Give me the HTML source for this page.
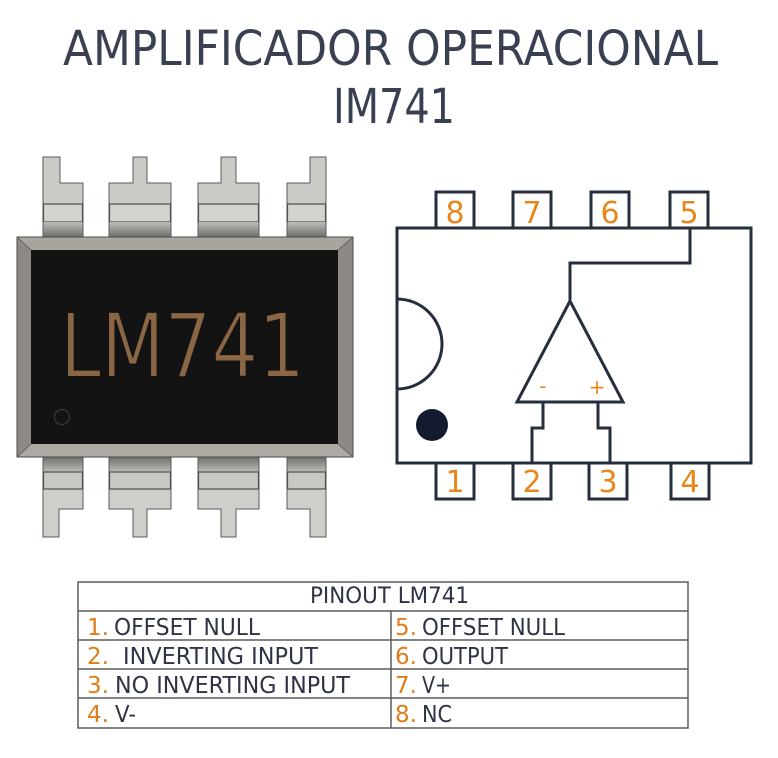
<!DOCTYPE html>
<html>
<head>
<meta charset="utf-8">
<style>
  html,body{margin:0;padding:0;background:#fff;}
  svg{display:block;}
  .t{font-family:"DejaVu Sans","Liberation Sans",sans-serif;}
</style>
</head>
<body>
<svg width="778" height="758" viewBox="0 0 778 758" xmlns="http://www.w3.org/2000/svg">
  <defs>
    <linearGradient id="gTop" x1="0" y1="0" x2="0" y2="1">
      <stop offset="0" stop-color="#bdbcb7"/>
      <stop offset="1" stop-color="#6e6e6c"/>
    </linearGradient>
    <linearGradient id="gBot" x1="0" y1="0" x2="0" y2="1">
      <stop offset="0" stop-color="#6e6e6c"/>
      <stop offset="1" stop-color="#bdbcb7"/>
    </linearGradient>
  </defs>

  <!-- Title -->
  <text class="t" x="63" y="65" font-size="48" fill="#3a4052" textLength="655" lengthAdjust="spacingAndGlyphs">AMPLIFICADOR OPERACIONAL</text>
  <text class="t" x="333" y="123" font-size="48" fill="#3a4052" textLength="122" lengthAdjust="spacingAndGlyphs">IM741</text>

  <!-- ===== Left chip ===== -->
  <g stroke="#5a5a58" stroke-width="1">
    <path d="M43,237 L43,157 L60,157 L60,183 L83,183 L83,237 Z" fill="#cbcac4"/>
    <path d="M109,237 L109,183 L133,183 L133,157 L147,157 L147,183 L171,183 L171,237 Z" fill="#cbcac4"/>
    <path d="M198,237 L198,183 L221,183 L221,157 L236,157 L236,183 L259,183 L259,237 Z" fill="#cbcac4"/>
    <path d="M287,237 L287,183 L310,183 L310,157 L326,157 L326,237 Z" fill="#cbcac4"/>
    <path d="M43,457 L43,537 L59,537 L59,509 L83,509 L83,457 Z" fill="#cfcec8"/>
    <path d="M109,457 L109,509 L133,509 L133,537 L147,537 L147,509 L171,509 L171,457 Z" fill="#cfcec8"/>
    <path d="M198,457 L198,509 L221,509 L221,537 L236,537 L236,509 L259,509 L259,457 Z" fill="#cfcec8"/>
    <path d="M287,457 L287,509 L310,509 L310,537 L326,537 L326,457 Z" fill="#cfcec8"/>
  </g>
  <g stroke="#4e4e4c" stroke-width="1.2">
    <rect x="43.5" y="204" width="39" height="18" fill="#d4d3cd"/>
    <rect x="109.5" y="204" width="61" height="18" fill="#d4d3cd"/>
    <rect x="198.5" y="204" width="60" height="18" fill="#d4d3cd"/>
    <rect x="287.5" y="204" width="38" height="18" fill="#d4d3cd"/>
  </g>
  <g>
    <rect x="43.5" y="222" width="39" height="15" fill="url(#gTop)"/>
    <rect x="109.5" y="222" width="61" height="15" fill="url(#gTop)"/>
    <rect x="198.5" y="222" width="60" height="15" fill="url(#gTop)"/>
    <rect x="287.5" y="222" width="38" height="15" fill="url(#gTop)"/>
  </g>
  <g>
    <rect x="43.5" y="457" width="39" height="15" fill="url(#gBot)"/>
    <rect x="109.5" y="457" width="61" height="15" fill="url(#gBot)"/>
    <rect x="198.5" y="457" width="60" height="15" fill="url(#gBot)"/>
    <rect x="287.5" y="457" width="38" height="15" fill="url(#gBot)"/>
  </g>
  <g stroke="#4e4e4c" stroke-width="1.2">
    <rect x="43.5" y="472" width="39" height="17" fill="#c9c8c2"/>
    <rect x="109.5" y="472" width="61" height="17" fill="#c9c8c2"/>
    <rect x="198.5" y="472" width="60" height="17" fill="#c9c8c2"/>
    <rect x="287.5" y="472" width="38" height="17" fill="#c9c8c2"/>
  </g>

  <!-- body bevel -->
  <polygon points="17,237 353,237 338,250 31,250" fill="#a8a59f"/>
  <polygon points="31,444 338,444 353,457 17,457" fill="#acaaa3"/>
  <polygon points="17,237 31,250 31,444 17,457" fill="#8d8a85"/>
  <polygon points="353,237 338,250 338,444 353,457" fill="#8d8a85"/>
  <rect x="17" y="237" width="336" height="220" fill="none" stroke="#4a4a48" stroke-width="1"/>
  <g stroke="#55524e" stroke-width="0.8">
    <line x1="17" y1="237" x2="31" y2="250"/>
    <line x1="353" y1="237" x2="338" y2="250"/>
    <line x1="17" y1="457" x2="31" y2="444"/>
    <line x1="353" y1="457" x2="338" y2="444"/>
  </g>
  <rect x="31" y="250" width="307" height="194" fill="#131313"/>
  <text class="t" x="60" y="377" font-size="89" fill="#8a6644" stroke="#131313" stroke-width="2" textLength="245" lengthAdjust="spacingAndGlyphs">LM741</text>
  <circle cx="62" cy="417" r="7.5" fill="none" stroke="#3a3a3a" stroke-width="1.2"/>

  <!-- ===== Right diagram ===== -->
  <g fill="#fff" stroke="#262d3d" stroke-width="3">
    <rect x="436" y="192" width="38" height="36"/>
    <rect x="513" y="192" width="38" height="36"/>
    <rect x="591" y="192" width="38" height="36"/>
    <rect x="670" y="192" width="38" height="36"/>
    <rect x="436" y="463" width="38" height="36"/>
    <rect x="513" y="463" width="38" height="36"/>
    <rect x="589" y="463" width="38" height="36"/>
    <rect x="671" y="463" width="38" height="36"/>
    <rect x="397" y="228" width="354" height="235"/>
  </g>
  <g fill="none" stroke="#262d3d" stroke-width="3">
    <path d="M397,299 A45,45 0 0 1 397,389"/>
    <polygon points="570,301 517,402 623,402" stroke-linejoin="miter"/>
    <polyline points="570,301 570,263 690,263 690,228"/>
    <polyline points="543,402 543,428 532,428 532,463"/>
    <polyline points="598,402 598,428 610,428 610,463"/>
  </g>
  <circle cx="432" cy="425" r="16" fill="#151b2e"/>

  <g class="t" font-size="30" fill="#e8861a" text-anchor="middle">
    <text x="455" y="223">8</text>
    <text x="532" y="223">7</text>
    <text x="610" y="223">6</text>
    <text x="689" y="223">5</text>
    <text x="455" y="492">1</text>
    <text x="532" y="492">2</text>
    <text x="608" y="492">3</text>
    <text x="690" y="492">4</text>
  </g>
  <g class="t" font-size="20" fill="#e8861a" text-anchor="middle">
    <text x="543" y="393">-</text>
    <text x="597" y="394">+</text>
  </g>

  <!-- ===== Table ===== -->
  <g fill="none" stroke="#5a5a5a" stroke-width="1.5">
    <rect x="78" y="582" width="610" height="146"/>
    <line x1="78" y1="611" x2="688" y2="611"/>
    <line x1="78" y1="640" x2="688" y2="640"/>
    <line x1="78" y1="669" x2="688" y2="669"/>
    <line x1="78" y1="698" x2="688" y2="698"/>
    <line x1="391" y1="611" x2="391" y2="728"/>
  </g>
  <text class="t" x="310" y="603" font-size="22" fill="#2e3446" textLength="159" lengthAdjust="spacingAndGlyphs">PINOUT LM741</text>

  <g class="t" font-size="23" fill="#e07d1a">
    <text x="87" y="635">1.</text>
    <text x="87" y="664">2.</text>
    <text x="87" y="693">3.</text>
    <text x="87" y="722">4.</text>
    <text x="395" y="635">5.</text>
    <text x="395" y="664">6.</text>
    <text x="395" y="693">7.</text>
    <text x="395" y="722">8.</text>
  </g>
  <g class="t" font-size="23" fill="#2e3446">
    <text x="114" y="635" textLength="146" lengthAdjust="spacingAndGlyphs">OFFSET NULL</text>
    <text x="123" y="664" textLength="195" lengthAdjust="spacingAndGlyphs">INVERTING INPUT</text>
    <text x="115" y="693" textLength="235" lengthAdjust="spacingAndGlyphs">NO INVERTING INPUT</text>
    <text x="115" y="722" textLength="21" lengthAdjust="spacingAndGlyphs">V-</text>
    <text x="422" y="635" textLength="143" lengthAdjust="spacingAndGlyphs">OFFSET NULL</text>
    <text x="422" y="664" textLength="86" lengthAdjust="spacingAndGlyphs">OUTPUT</text>
    <text x="422" y="693" textLength="29" lengthAdjust="spacingAndGlyphs">V+</text>
    <text x="422" y="722" textLength="30" lengthAdjust="spacingAndGlyphs">NC</text>
  </g>
</svg>
</body>
</html>
